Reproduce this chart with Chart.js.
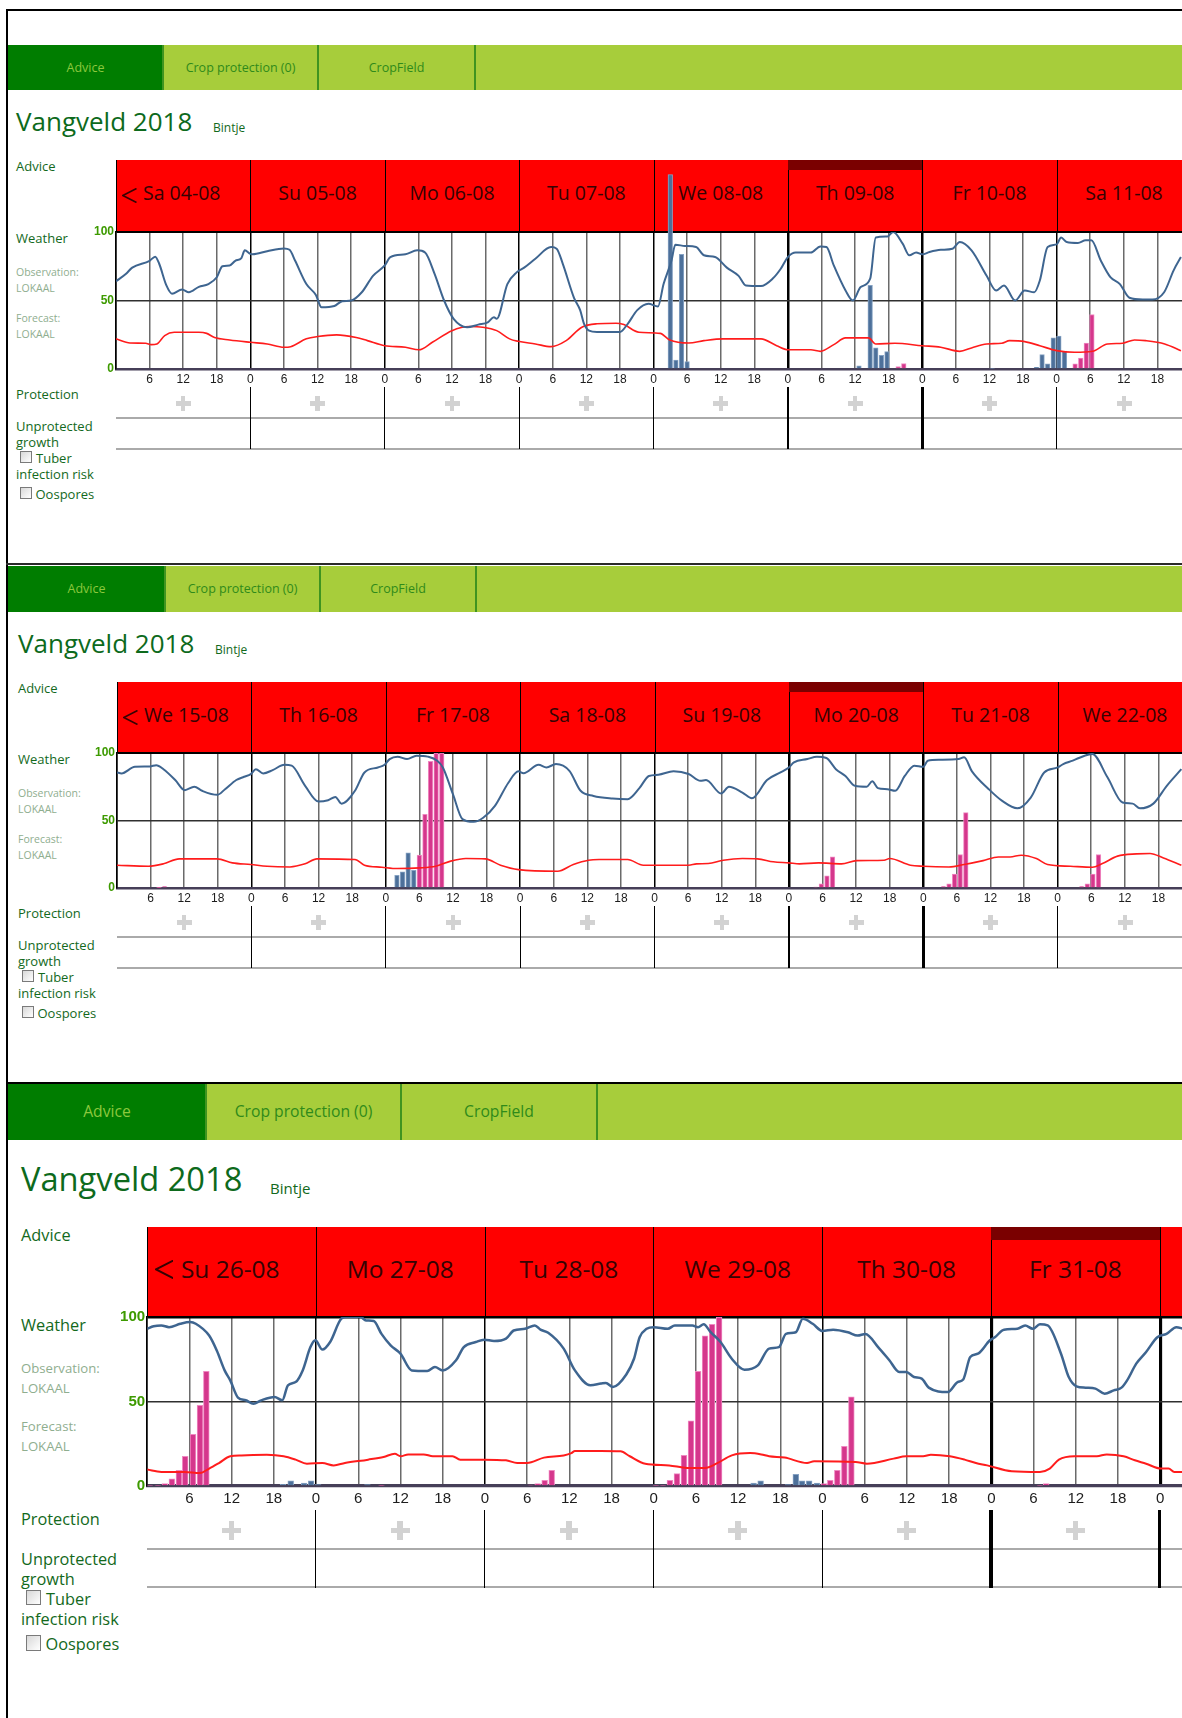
<!DOCTYPE html>
<html>
<head>
<meta charset="utf-8">
<script src="https://cdn.jsdelivr.net/npm/chart.js@4.4.0/dist/chart.umd.min.js"></script>
<style>
  html, body { margin: 0; padding: 0; background: #fff; overflow: hidden; }
  #page { position: relative; width: 1182px; height: 1718px; overflow: hidden; font-family: "Open Sans", sans-serif; }
  #page div, #page canvas { position: absolute; }
</style>
</head>
<body>
<div id="page"></div>
<script>
// ---- data: [hour since first day 00:00, value] ----
const p1Days = ["Sa 04-08", "Su 05-08", "Mo 06-08", "Tu 07-08", "We 08-08", "Th 09-08", "Fr 10-08", "Sa 11-08"];
const p2Days = ["We 15-08", "Th 16-08", "Fr 17-08", "Sa 18-08", "Su 19-08", "Mo 20-08", "Tu 21-08", "We 22-08"];
const p3Days = ["Su 26-08", "Mo 27-08", "Tu 28-08", "We 29-08", "Th 30-08", "Fr 31-08", "Sa 01-09"];
const tabLabels = ["Advice", "Crop protection (0)", "CropField"];
const yTicks = [0, 50, 100];

const p1Humidity = [[0,64],[1.8,69.5],[2.9,74],[6,79],[7,82],[7.7,77],[9,61],[10,55],[11.8,58],[13,56],[14.8,60],[16.5,62],[18,67],[19,75],[20.3,75.6],[21.3,79],[22.4,81],[23,86.6],[24,84],
  [24.4,83.7],[27,86],[30,88],[31,87],[32,79],[34,62],[35.7,54],[36.7,45],[39,46],[40.4,49.5],[42,50],[43.9,56],[45.9,68],[48,75.6],
  [49,81.7],[51.7,83.7],[53.8,86.6],[55.2,85],[56.9,69.5],[58.6,50],[60.3,36.6],[62.7,30.5],[64.7,32.4],[66.4,34],[67.5,37.8],[68,36.6],[69.9,62],[71.6,70.7],
  [72.9,74],[74.9,80.5],[77.7,89],[78.7,87.8],[79.8,76.8],[81.8,52],[82.9,43],[83.6,33],[84.5,28],[85.9,27],[90,27],[91.4,33],[93.1,43],[95.1,47.6],[96.8,45.6],[97.8,62],[99.2,79],[99.9,90.7],[101.6,89.8],[103.6,89],[105,83],[107,81.7],[109.1,74],[111.2,68],[112.5,61],[115.2,60.5],[117.3,66],[118.7,73],[120,81.7],
  [121.4,85],[124.1,85],[125.8,89.5],[126.9,89],[128.2,75.6],[130.3,57.3],[131.6,50],[133,59.8],[134.7,66],[135.7,96],[137.8,96.8],[138.8,100],[140.5,91.5],[141.7,83],[142.9,85],[144,83.7],
  [145.3,85.4],[147.3,87],[149.4,87.8],[150.7,92.7],[152.8,86.6],[155.5,68],[157.2,57.3],[158.6,61],[160.6,50],[162.3,57.3],[164,56],[165,64.6],[166.4,89],[168,91],
  [168.8,95.9],[169.8,92.7],[171.8,92],[173.2,93.9],[174.2,93.9],[175.9,79],[177.6,67],[179.3,62],[181,52],[183.4,50.7],[185.1,50.7],[187.2,56],[188.9,72],[190.2,81.7]];
const p1Temp = [[0,22],[2.5,19],[5.3,18.8],[6.3,17.8],[7.3,18.3],[8.7,24.4],[10.4,26.8],[14.8,26.8],[16.2,26],[17.6,23],[20.3,21.2],[24,19.5],[27,18.3],[30,15.9],[31.2,16.3],[34,22],[36,23.7],[39.4,24.9],[42.9,23],[44.9,20.7],[48,17],[51.7,15.9],[54.1,14],[56.5,19.5],[60,28],[63.1,31],[65.5,30.5],[68,28],[70.3,22],[71.8,20.2],[74.9,18.3],[77.7,16.3],[80.4,20.7],[83.2,30.5],[85.9,33],[89.3,33.4],[90.7,32.4],[93.4,26.8],[97.2,26],[98.9,21.2],[102.3,19],[105,20.7],[108.4,22],[115.2,22],[118,17],[120,14],[124.1,14],[125.8,12.9],[128.2,17.8],[130.3,22.7],[134.4,22.7],[135.7,18.3],[139.1,18.8],[144,17],[147.3,15.9],[150.7,12.9],[152.8,15.4],[155.5,18.3],[158.2,18.8],[159.6,20.7],[162.3,20],[165,17],[168,13.4],[171.2,12.2],[174.4,12.9],[177.1,18.3],[179.8,18.8],[181.9,21.2],[183.9,20.7],[187.3,18.3],[190.2,13.4]];
const p1RainObs = [[99,142],[100,6.6],[101,83.7],[102,5.4],[132.7,2.4],[134.7,61],[135.7,15.4],[136.7,10],[137.7,12.7],[156.5,0.5],[164.4,1.2],[165.4,10.5],[166.4,3.7],[167.4,22.7],[168.4,24],[169.4,13]];
const p1RainFc = [[139.7,1.7],[140.7,4],[171.3,3.7],[172.3,8],[173.3,19],[174.3,39.8]];

const p2Humidity = [[0,85.6],[0.8,84.9],[3.2,89.8],[5.9,90],[7,91],[8.3,88],[10.4,80],[12.1,72.5],[13.8,75],[15.2,72],[17.9,69],[19.3,73.2],[21.3,80],[22.7,82.4],[23.9,84.4],
  [24.8,88],[26.1,84.9],[27.8,87.3],[29.9,91.3],[31.2,90.6],[33.6,75.7],[36,64],[37.7,65],[39,67.5],[40.1,62.5],[42.5,72],[44.2,85.6],[46.6,89.3],[47.8,91.3],
  [48.7,95.5],[50.1,97.3],[51.8,95.5],[53.5,98],[55.5,97.3],[57.2,94.3],[58.2,89.3],[60,69.5],[61.7,51],[63.7,49],[65.4,52],[67.5,60.8],[69.9,78],[71.7,86.4],
  [72.6,85],[75.3,91.3],[76.7,89.3],[78.4,91.8],[80.8,86.8],[82.8,72],[85.1,68.2],[88.5,66.3],[91.2,65.8],[93.3,74],[95,83],[96.7,83.9],[99.4,86.4],[102.1,84.4],[104.2,79.4],[105.2,80],[107.9,70],[109.3,75],[111.7,70.7],[113.4,66.5],[116.1,80],[118.5,85.6],[120,89.3],
  [120.9,93],[123.3,95.5],[125,97.3],[126.7,96.3],[128.4,88],[130.1,83],[131.8,75.7],[133.9,75],[134.9,79],[135.9,74],[137.6,73.2],[139,72],[140.7,83],[142.4,90.6],[144,89.8],
  [144.8,94.3],[146.9,95],[150.3,95.5],[151.3,96.8],[152.7,86.4],[155.7,73.2],[158.1,64.5],[160.8,59],[163.2,67],[165.6,85.6],[168,89.3],
  [169,91.8],[170.7,94.3],[171.8,96.3],[174.2,99.3],[176.9,82],[179.6,63.3],[181.4,62.5],[182.7,59],[185.1,62.5],[187.5,75.7],[190.1,88]];
const p2Temp = [[0,16.9],[5.6,16.1],[8.3,17.9],[11.1,21.6],[17.9,21.6],[20.6,18.6],[23.9,17.4],[26.8,16.1],[30.9,15.6],[33.6,17.9],[35.7,21.6],[42.5,21.1],[44.2,16.9],[47.3,15.4],[50.1,14.4],[54.1,14.9],[56.9,16.1],[59.6,19.9],[62.3,21.8],[65.8,21.6],[68.5,16.9],[71.7,13.6],[78.7,12.4],[81.5,17.4],[84.2,20.6],[86.1,21.1],[91.2,21.1],[94,16.9],[102.1,16.9],[103.5,17.9],[105.6,18.1],[108.3,20.6],[111.7,21.8],[114.4,21.6],[117.2,19.4],[120,18.6],[121.9,17.9],[125.3,18.6],[129.4,17.9],[132.1,20.3],[137,20.6],[138,21.8],[141.7,16.9],[144,16.1],[148.6,15.6],[151.3,17.4],[154.7,20.3],[157.4,23],[159.5,23],[161.5,24.3],[164.2,21.8],[166.2,17.4],[170.3,16.1],[174.2,15.4],[175.9,17.9],[178.7,23.6],[182.1,25.3],[184.5,25.6],[186.9,22.3],[190.1,16.9]];
const p2RainObs = [[50,9.4],[51,12],[52,26],[53,13]];
const p2RainFc = [[7.5,0.3],[8.5,1],[54,24.3],[55,54.6],[56,93.8],[57,100],[58,100],[124.8,0.7],[125.8,3],[126.8,9],[127.8,23],[147.6,1],[148.6,3],[149.6,10.4],[150.6,24.8],[151.6,55.8],[172.3,1],[173.3,3],[174.3,10.4],[175.3,24.8]];

const p3Humidity = [[0,93],[0.9,94.5],[2,95],[3.1,94],[4.7,96],[6.1,97],[6.9,96],[8.8,89],[9.9,80],[11,68.4],[11.8,62.5],[12.9,52.3],[14,50.7],[15.1,48.7],[16.2,50.7],[18.1,52.7],[19.2,50.7],[20,59.6],[21.1,61.5],[22.1,68.4],[23.2,82.2],[23.9,86.2],
  [24.9,80.7],[26,85.2],[27.6,99],[28.4,100],[30.3,100],[31.1,98],[32.2,97.6],[33.3,90],[34.6,83.2],[36,78.3],[37.6,68.4],[39.8,68],[40.9,70.4],[42,68.4],[43.9,74.4],[45,82.2],[46.7,85.2],[47.9,86.6],
  [49.3,85.8],[51,87.2],[52.1,92],[53.7,93],[55.1,95],[55.9,92.5],[57,90.7],[59.2,81.3],[60.8,68.4],[63,59.6],[64.5,60.6],[65.2,61],[66.2,58.6],[68.1,66],[69.2,75.3],[70,88],[71,93],[72,94],
  [74,93],[75,95],[77.5,95],[78.3,94],[79.1,95.7],[80.1,91],[81.5,85.2],[83.1,75.3],[84.9,68.8],[86.8,71.4],[88.4,81.3],[89.8,82.2],[90.8,90],[92.2,91],[93.2,99],[94.6,96],[96,91.7],
  [97.5,92.5],[99.6,91],[101,89],[102.1,90],[103.9,82.2],[105.5,74.4],[106.9,67.5],[107.9,67.5],[109,64.5],[110.1,63.5],[111.1,58.2],[113.8,55.6],[115.2,61.5],[116,63],[117,76.3],[118.1,78.3],[119.8,86.2],
  [120.5,88],[121.8,92.5],[123.7,93],[124.8,95],[125.9,93],[126.9,95.7],[128,95],[129.9,78.3],[131,64.5],[132.1,59],[133.4,58.2],[134.8,57.6],[136.1,54.6],[137.4,56.6],[138.5,58.2],[139.3,62.5],[140.6,72.4],[142,79.3],[143.6,88],[144.9,90],[146.3,94],[147.3,93]];
const p3Temp = [[0,9.7],[2,8.3],[5.3,8.3],[7.5,7.7],[8.8,10.3],[10.2,13.6],[11.8,17.6],[13.4,18.1],[17,18.5],[19.4,17.6],[21.1,15.6],[22.7,13.2],[24.9,13.6],[26.5,12.2],[28.1,13.6],[31.4,15.6],[33.6,17.2],[35.2,19.1],[36,17.6],[37.1,18.7],[39.3,18.7],[40.6,17.6],[43.4,17.6],[44.5,15.6],[47.9,15.6],[51,15.2],[52.6,13.6],[54,13.6],[56.4,16.8],[59.2,18.1],[60.3,19.5],[60.8,20.7],[64.5,20.7],[67.3,20.5],[68.6,17.6],[70.8,13.2],[74.2,12.2],[76.7,10.7],[79.3,10.7],[80.9,13.2],[83.1,18.1],[85.7,19.5],[87.3,18.7],[88.4,17.6],[90.6,16.8],[93.8,13.6],[94.8,14.6],[100.7,14.2],[102.3,13.2],[106.1,16.2],[107.9,17.6],[110.3,17.6],[111.4,18.5],[114.1,17.6],[116.2,15.6],[117.8,13.6],[119.4,12.2],[122.9,8.7],[126.9,8.3],[128.3,10.3],[129.6,15.6],[131.8,17.6],[135,17.6],[136.4,18.7],[138.8,17.6],[140.4,15.2],[142,13.2],[144.1,10.3],[145.2,10.3],[146,8.3],[147.3,8.3]];
const p3RainObs = [[19.3,1],[20.4,3],[22.3,1.8],[23.3,3],[24.3,0.8],[31.3,0.8],[86.2,1.8],[87.2,3],[91.1,0.8],[92.2,6.9],[93.1,3],[94.1,3],[95.2,1.8]];
const p3RainFc = [[0.4,0.4],[1.5,0.4],[2.5,1.4],[3.5,4.3],[4.5,9.3],[5.4,17.6],[6.5,30.6],[7.5,47.7],[8.4,67.9],[33.3,0.3],[54.5,0.5],[55.5,1.4],[56.5,3.4],[57.5,9.3],[72.3,0.4],[73.3,0.4],[74.3,3.4],[75.3,7.3],[76.3,18.1],[77.3,38.5],[78.3,67.9],[79.3,88.8],[80.3,95.7],[81.3,100],[96.2,1.4],[97.1,3.4],[98.1,9.3],[99.1,23.5],[100.1,52.7],[126.9,0.4],[127.8,1.4]];

// ---- page geometry of the three stacked screenshots ----
const panels = [
  { lineY: 9, lineColor: "#000", tabT: 45, tabH: 45, tabW: [155, 155, 157], s: 1, lx: 16, bx: 213,
    headL: 116, dayW: 134.4, headT: 160, plotT: 231.5, plotB: 368, today: 5, nDays: 8,
    days: p1Days, hum: p1Humidity, temp: p1Temp, obs: p1RainObs, fc: p1RainFc },
  { lineY: 563, lineColor: "#2a2a2a", tabT: 566, tabH: 46, tabW: [157, 155, 156], s: 1, lx: 18, bx: 215,
    headL: 117, dayW: 134.4, headT: 682, plotT: 752.5, plotB: 887, today: 5, nDays: 8,
    days: p2Days, hum: p2Humidity, temp: p2Temp, obs: p2RainObs, fc: p2RainFc },
  { lineY: 1082, lineColor: "#000", tabT: 1084, tabH: 56, tabW: [198, 195, 196], s: 1.256, lx: 21, bx: 270,
    headL: 147, dayW: 168.8, headT: 1227, plotT: 1317, plotB: 1486, today: 5, nDays: 7,
    days: p3Days, hum: p3Humidity, temp: p3Temp, obs: p3RainObs, fc: p3RainFc }
];

const page = document.getElementById("page");
const GREEN = "#13691c", PALE = "#8fae8f", DAYTXT = "#350303";

function box(x, y, w, h, bg, extra) {
  const d = document.createElement("div");
  d.style.cssText = `left:${x}px;top:${y}px;width:${w}px;height:${h}px;background:${bg};` + (extra || "");
  page.appendChild(d);
  return d;
}

// text placed by the vertical centre of its capitals
function txt(str, x, yc, size, color, extra) {
  const d = document.createElement("div");
  d.textContent = str;
  d.style.cssText = `left:${x}px;top:${yc - size * 0.63}px;font-size:${size}px;line-height:${size * 1.2}px;color:${color};white-space:nowrap;` + (extra || "");
  page.appendChild(d);
  return d;
}

function chevron(x, yc, s) {
  const z = 15 * s;
  const d = document.createElement("div");
  d.style.cssText = `left:${x}px;top:${yc - z / 2}px;width:${z}px;height:${z}px;`;
  d.innerHTML = `<svg width="${z}" height="${z}" viewBox="0 0 15 15"><polyline points="14.5,0.5 0.8,7.5 14.5,14.5" fill="none" stroke="${DAYTXT}" stroke-width="1.6"/></svg>`;
  page.appendChild(d);
}

function plus(cx, cy, s) {
  const L = 15 * s, T = 4.5 * s;
  box(cx - L / 2, cy - T / 2, L, T, "#d2d2d2");
  box(cx - T / 2, cy - L / 2, T, L, "#d2d2d2");
}

function checkbox(x, yc, s) {
  const z = 12 * s;
  box(x, yc - z / 2, z, z, "linear-gradient(135deg,#d8d8d8,#ffffff)", "border:1px solid #7a7a7a;box-sizing:border-box;");
}

function drawPanel(P) {
  const s = P.s;
  box(6, P.lineY, 1176, 2, P.lineColor);

  // tab bar
  box(8, P.tabT, 1174, P.tabH, "#a7cd3b");
  let x = 8;
  P.tabW.forEach((w, i) => {
    if (i === 0) box(x, P.tabT, w, P.tabH, "#007d00");
    txt(tabLabels[i], x, P.tabT + P.tabH / 2, 12.5 * s, i === 0 ? "#8cc83e" : "#2f8a1a",
      `width:${w}px;text-align:center;`);
    x += w;
    box(x - 1, P.tabT, 1.5, P.tabH, "#3f9420");
  });

  // title
  txt("Vangveld 2018", P.lx, P.headT - 37.5 * s, 26 * s, "#0d6a1c");
  txt("Bintje", P.bx, P.headT - 31 * s, 12 * s, GREEN);

  // left labels
  txt("Advice", P.lx, P.headT + 7 * s, 13 * s, GREEN);
  txt("Weather", P.lx, P.plotT + 7.5 * s, 13 * s, GREEN);
  txt("Observation:", P.lx, P.plotT + 41.5 * s, 10.5 * s, PALE);
  txt("LOKAAL", P.lx, P.plotT + 57.5 * s, 10.5 * s, PALE);
  txt("Forecast:", P.lx, P.plotT + 87.5 * s, 10.5 * s, PALE);
  txt("LOKAAL", P.lx, P.plotT + 103.5 * s, 10.5 * s, PALE);
  txt("Protection", P.lx, P.plotB + 27 * s, 13 * s, GREEN);
  txt("Unprotected", P.lx, P.plotB + 59 * s, 13 * s, GREEN);
  txt("growth", P.lx, P.plotB + 75 * s, 13 * s, GREEN);
  checkbox(P.lx + 4 * s, P.plotB + 89 * s, s);
  txt("Tuber", P.lx + 20 * s, P.plotB + 91 * s, 13 * s, GREEN);
  txt("infection risk", P.lx, P.plotB + 107 * s, 13 * s, GREEN);
  checkbox(P.lx + 4 * s, P.plotB + 125 * s, s);
  txt("Oospores", P.lx + 19.5 * s, P.plotB + 127 * s, 13 * s, GREEN);

  // red day header
  const headH = P.plotT - P.headT;
  P.days.forEach((d, i) => {
    const cx = P.headL + i * P.dayW;
    box(cx, P.headT, P.dayW, headH, "#ff0000", "border-left:1px solid #000;box-sizing:border-box;");
    if (i === P.today) box(cx, P.headT, P.dayW, 10 * s, "#7a0000");
    const yc = P.headT + headH * 0.47;
    if (i === 0) {
      chevron(cx + 6 * s, yc, s);
      txt(d, cx + 27 * s, yc, 19.5 * s, DAYTXT);
    } else {
      txt(d, cx, yc, 19.5 * s, DAYTXT, `width:${P.dayW}px;text-align:center;`);
    }
  });

  // protection rows
  box(P.headL, P.plotB + 49 * s, 1182 - P.headL, 2, "#aaaaaa");
  box(P.headL, P.plotB + 80 * s, 1182 - P.headL, 2, "#aaaaaa");
  P.days.forEach((d, i) => {
    const cx = P.headL + i * P.dayW;
    plus(cx + P.dayW / 2, P.plotB + 35.5 * s, s);
    if (i > 0) {
      const w = (i === P.today || i === P.today + 1) ? 2.5 * s : 1.2;
      box(cx - w / 2, P.plotB + 19 * s, w, 62 * s, "#000");
    }
  });

  drawChart(P);
}

function toXY(arr) { return arr.map(([x, y]) => ({ x, y })); }

function drawChart(P) {
  const s = P.s;
  const yW = 40 * s;
  const padTop = Math.round(P.plotT - P.headT);
  const tickH = Math.round(24 * s);
  const plotH = P.plotB - P.plotT;
  const cw = Math.round(yW + P.nDays * P.dayW + 20);
  const ch = Math.round(padTop + plotH + tickH);
  const cv = document.createElement("canvas");
  cv.width = cw; cv.height = ch;
  cv.style.cssText = `left:${P.headL - yW}px;top:${P.plotT - padTop}px;width:${cw}px;height:${ch}px;`;
  page.appendChild(cv);

  const dayA = P.today * 24, dayB = (P.today + 1) * 24;
  const barW = P.dayW / 24 * 0.82;

  new Chart(cv, {
    type: "line",
    data: {
      datasets: [
        { type: "line", data: toXY(P.hum), borderColor: "#3e6590", borderWidth: 2 * s, pointRadius: 0, cubicInterpolationMode: "monotone" },
        { type: "line", data: toXY(P.temp), borderColor: "#ff1c1c", borderWidth: 1.6 * s, pointRadius: 0, cubicInterpolationMode: "monotone" },
        { type: "bar", data: toXY(P.obs), backgroundColor: "#4d709a", borderColor: "#86a2c3", borderWidth: 1, barThickness: barW, grouped: false, clip: false },
        { type: "bar", data: toXY(P.fc), backgroundColor: "#d5378c", borderColor: "#ef88c1", borderWidth: 1, barThickness: barW, grouped: false }
      ]
    },
    options: {
      responsive: false,
      animation: false,
      devicePixelRatio: 1,
      layout: { padding: { top: padTop, right: 20, left: 0, bottom: 0 } },
      plugins: { legend: { display: false }, tooltip: { enabled: false } },
      scales: {
        x: {
          type: "linear", min: 0, max: P.nDays * 24, offset: false,
          afterFit: sc => { sc.height = tickH; },
          ticks: {
            stepSize: 6, autoSkip: false, maxRotation: 0, minRotation: 0, padding: 3 * s,
            color: "#1c1c1c", font: { family: "Liberation Sans", size: 12 * s },
            callback: v => v === 0 ? "" : String(v % 24)
          },
          grid: {
            offset: false, drawTicks: false,
            color: c => c.tick && c.tick.value % 24 === 0 ? "#000" : "#6a6a6a",
            lineWidth: c => c.tick && (c.tick.value === dayA || c.tick.value === dayB) ? 2.5 * s : 1.5
          },
          border: { display: true, color: "#463f58", width: 2.5 * s }
        },
        y: {
          min: 0, max: 100,
          afterFit: sc => { sc.width = yW; },
          afterBuildTicks: sc => { sc.ticks = yTicks.map(v => ({ value: v })); },
          ticks: { padding: 2, color: "#3d9a00", font: { family: "Liberation Sans", size: 12 * s, weight: "bold" } },
          grid: {
            drawTicks: false,
            color: c => !c.tick ? "#000" : c.tick.value === 50 ? "#303030" : c.tick.value === 100 ? "#000" : "rgba(0,0,0,0)",
            lineWidth: c => c.tick && c.tick.value === 100 ? 2 * s : 1.5
          },
          border: { display: true, color: "#000", width: 1.5 }
        }
      }
    }
  });
}

// outer left frame
box(6, 9, 2, 1709, "#000");
panels.forEach(drawPanel);
</script>
</body>
</html>
